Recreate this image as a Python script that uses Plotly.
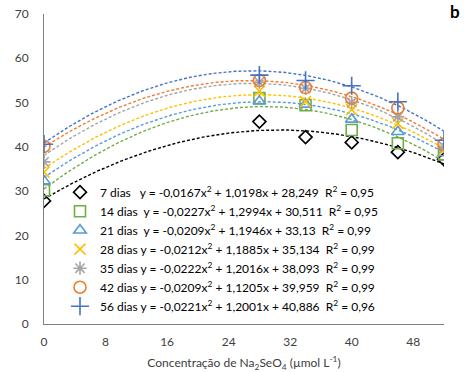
import numpy as np
import plotly.graph_objects as go

conc = [0, 28, 34, 40, 46, 52]
series_names = ["7 dias", "14 dias", "21 dias", "28 dias", "35 dias", "42 dias", "56 dias"]
d7 = [27.8, 45.7, 42.2, 41.0, 38.8, 37.2]
d14 = [30.2, 51.0, 49.4, 43.8, 40.8, 38.3]
d21 = [32.3, 50.3, 49.6, 46.2, 43.4, 38.6]
d28 = [34.3, 52.6, 50.2, 48.4, 45.3, 39.3]
d35 = [36.6, 54.6, 53.2, 50.0, 46.8, 40.0]
d42 = [40.1, 55.0, 53.4, 51.0, 48.8, 40.6]
d56 = [40.6, 56.2, 55.0, 53.8, 50.2, 41.5]
values = [d7, d14, d21, d28, d35, d42, d56]

# Trendline coefficients (a, b, c) and R² as printed in the chart
coef_a = [-0.0167, -0.0227, -0.0209, -0.0212, -0.0222, -0.0209, -0.0221]
coef_b = [1.0198, 1.2994, 1.1946, 1.1885, 1.2016, 1.1205, 1.2001]
coef_c = [28.249, 30.511, 33.13, 35.134, 38.093, 39.959, 40.886]
eq_labels = [
    "y = -0,0167x<sup>2</sup> + 1,0198x + 28,249  R<sup>2</sup> = 0,95",
    "y = -0,0227x<sup>2</sup> + 1,2994x + 30,511  R<sup>2</sup> = 0,95",
    "y = -0,0209x<sup>2</sup> + 1,1946x + 33,13  R<sup>2</sup> = 0,99",
    "y = -0,0212x<sup>2</sup> + 1,1885x + 35,134  R<sup>2</sup> = 0,99",
    "y = -0,0222x<sup>2</sup> + 1,2016x + 38,093  R<sup>2</sup> = 0,99",
    "y = -0,0209x<sup>2</sup> + 1,1205x + 39,959  R<sup>2</sup> = 0,99",
    "y = -0,0221x<sup>2</sup> + 1,2001x + 40,886  R<sup>2</sup> = 0,96",
]
gaps = ["  ", " ", " ", "", "", "", ""]

colors = ["#000000", "#70AD47", "#5B9BD5", "#FFC000", "#A5A5A5", "#ED7D31", "#4472C4"]
symbols = ["diamond-open", "square-open", "triangle-up-open", "x-thin-open",
           "asterisk-open", "circle-open", "cross-thin-open"]
sizes = [10, 11, 11, 11, 11, 12, 13]

fig = go.Figure()
xs = np.linspace(0, 52, 200)
for i in range(len(series_names)):
    ys = coef_a[i] * xs ** 2 + coef_b[i] * xs + coef_c[i]
    fig.add_trace(go.Scatter(x=xs, y=ys, mode="lines", showlegend=False,
                             line=dict(color=colors[i], width=1.4, dash="3px,2px"),
                             hoverinfo="skip"))
for i in range(len(series_names)):
    fig.add_trace(go.Scatter(
        x=conc, y=values[i], mode="markers",
        name=series_names[i] + " " + gaps[i] + eq_labels[i],
        marker=dict(symbol=symbols[i], size=sizes[i], color=colors[i],
                    line=dict(color=colors[i], width=1.6)),
    ))

fig.add_annotation(text="<b>b</b>", xref="paper", yref="paper", x=1.027, y=1.008,
                   xanchor="center", yanchor="middle", showarrow=False,
                   font=dict(size=17, color="#000000"))

fig.update_layout(
    width=464, height=372,
    margin=dict(l=44, r=20, t=14, b=48, autoexpand=False),
    paper_bgcolor="white", plot_bgcolor="white",
    font=dict(family="Lato, Open Sans, sans-serif", size=12, color="#404040"),
    legend=dict(x=0.04, y=0.472, xanchor="left", yanchor="top",
                bgcolor="rgba(255,255,255,0)", font=dict(size=12, color="#000000"),
                itemwidth=30, tracegroupgap=0),
    xaxis=dict(range=[0, 52], tickvals=[0, 8, 16, 24, 32, 40, 48], showgrid=False,
               zeroline=False, showline=True, linecolor="#7f7f7f", linewidth=1,
               ticks="", ticklabelstandoff=7, automargin=False,
               tickfont=dict(size=12, color="#404040"),
               title=dict(text="Concentração de Na<sub>2</sub>SeO<sub>4</sub> (µmol L<sup>-1</sup>)",
                          font=dict(size=12, color="#404040"), standoff=10)),
    yaxis=dict(range=[0, 70], dtick=10, showgrid=False, zeroline=False,
               showline=True, linecolor="#7f7f7f", linewidth=1,
               ticks="", ticklabelstandoff=12, automargin=False,
               tickfont=dict(size=12, color="#404040")),
)

fig.write_html("out.html", post_script="document.body.style.margin='0';",
               config={"displayModeBar": False})
